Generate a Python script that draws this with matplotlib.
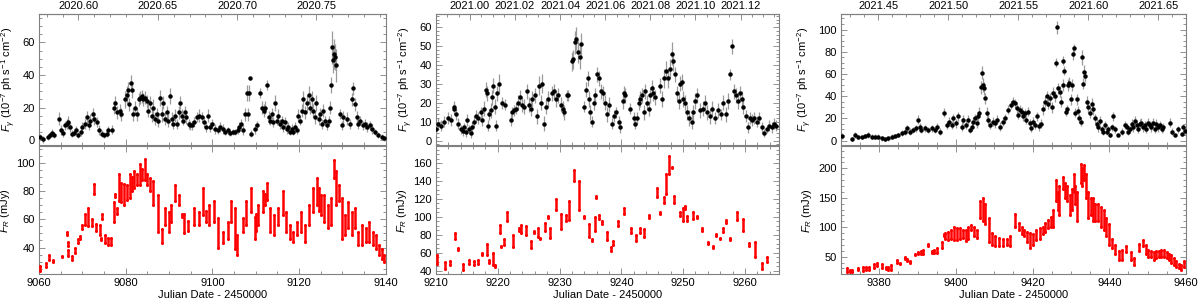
import numpy as np
import matplotlib
matplotlib.use('Agg')
import matplotlib.pyplot as plt
from matplotlib.ticker import MultipleLocator, FormatStrFormatter

plt.rcParams['font.family'] = ['Liberation Sans', 'DejaVu Sans']
plt.rcParams['mathtext.fontset'] = 'custom'
plt.rcParams['mathtext.rm'] = 'Liberation Sans'
plt.rcParams['mathtext.it'] = 'Liberation Sans:italic'

# ---- gamma-ray light curves (JD-2450000, flux 1e-7 ph/s/cm2, error) ----
g1_t = [9060.2, 9061.0, 9062.0, 9062.5, 9063.0, 9063.5, 9064.7, 9065.0, 9065.6, 9066.0,
        9066.4, 9066.8, 9067.2, 9067.5, 9068.0, 9068.5, 9069.0, 9069.6, 9070.0, 9070.6,
        9071.0, 9071.5, 9071.8, 9072.4, 9072.7, 9073.3, 9073.8, 9074.5, 9075.0, 9075.6,
        9076.0, 9076.8, 9077.2, 9077.5, 9077.9, 9078.7, 9078.9, 9079.8, 9080.2, 9080.6,
        9080.8, 9081.2, 9081.4, 9081.6, 9082.2, 9082.5, 9083.0, 9083.3, 9083.7, 9084.0,
        9084.5, 9084.8, 9085.2, 9085.6, 9086.0, 9086.4, 9086.8, 9087.2, 9087.5, 9088.0,
        9088.3, 9088.7, 9089.0, 9089.5, 9089.8, 9090.2, 9090.6, 9091.0, 9091.4, 9091.8,
        9092.2, 9092.5, 9093.0, 9093.3, 9093.7, 9094.0, 9094.5, 9094.8, 9095.2, 9095.8,
        9096.4, 9097.0, 9097.5, 9098.0, 9098.5, 9099.0, 9099.5, 9100.0, 9100.6, 9101.2,
        9101.8, 9102.4, 9103.0, 9103.5, 9104.0, 9104.7, 9105.2, 9105.8, 9106.2, 9106.6,
        9107.0, 9107.5, 9108.0, 9108.3, 9108.5, 9108.7, 9109.0, 9109.8, 9110.2, 9111.0,
        9111.4, 9112.0, 9112.2, 9112.5, 9113.0, 9113.3, 9113.7, 9114.0, 9114.5, 9114.8,
        9115.2, 9115.6, 9116.0, 9116.4, 9116.8, 9117.2, 9117.5, 9118.0, 9118.3, 9118.7,
        9119.0, 9119.5, 9119.8, 9120.2, 9120.6, 9121.0, 9121.4, 9121.8, 9122.2, 9122.5,
        9123.0, 9123.3, 9123.7, 9124.0, 9124.5, 9124.8, 9125.2, 9125.6, 9126.0, 9126.4,
        9126.8, 9127.2, 9127.4, 9127.7, 9127.9, 9128.1, 9128.3, 9128.5, 9129.5, 9129.8,
        9130.2, 9131.0, 9131.8, 9132.2, 9132.5, 9132.9, 9133.3, 9133.7, 9134.1, 9134.8,
        9135.2, 9135.6, 9136.4, 9136.8, 9137.5, 9138.3, 9139.1, 9139.7]
g1_f = [2, 0.5, 2, 3, 4.5, 3, 13, 6, 4.5, 9,
        10, 11, 8, 4, 4.5, 6, 3, 5, 8, 10,
        14, 9, 12, 16, 13, 11, 6, 4, 3, 4,
        6, 6.5, 20, 23, 17, 18, 16, 25, 28, 31,
        22, 35, 31, 16, 20, 16, 25, 26, 27, 25,
        26, 24, 18, 23, 15, 20, 13, 16, 12, 26,
        16, 23, 13, 17, 12, 27, 13, 10, 15, 10,
        17, 23, 15, 12, 17, 14, 10, 9, 9, 11,
        14, 15, 14, 11, 8, 15, 8, 10, 7, 6,
        8, 7, 5, 6, 4.5, 5, 5, 6, 8, 10,
        6, 16, 29, 16, 29, 38, 4, 7, 9, 29,
        20, 18, 20, 34, 14, 12, 16, 11, 23, 12,
        15, 10, 12, 8, 11, 7, 8, 5, 7, 5,
        8, 6, 15, 12, 18, 25, 17, 23, 28, 20,
        25, 18, 14, 23, 13, 16, 10, 18, 12, 9,
        12, 20, 34, 57, 49, 53, 51, 46, 16, 9,
        14, 13, 10, 25, 32, 22, 14, 10, 12, 9,
        10, 8, 9, 7, 5, 3, 2, 1]
g1_e = [2, 2, 2, 2, 2.5, 2, 4, 3, 2.5, 3,
        3, 4, 3, 2, 2, 2.5, 2, 2.5, 3, 3,
        4, 3, 4, 4, 4, 3, 3, 2, 2, 2,
        2.5, 2.5, 4, 4, 4, 4, 4, 5, 5, 5,
        4, 5, 5, 4, 4, 4, 4, 4, 4, 4,
        4, 4, 4, 4, 4, 5, 4, 4, 4, 5,
        5, 4, 4, 4, 4, 5, 4, 3, 4, 3,
        4, 4, 4, 3, 4, 4, 3, 3, 3, 3,
        3, 4, 3, 3, 3, 4, 3, 3, 3, 2,
        3, 3, 2, 2, 2, 2, 2, 2, 3, 3,
        3, 4, 5, 4, 5, 1, 2, 3, 3, 3,
        4, 4, 4, 3, 4, 3, 4, 3, 5, 3,
        4, 3, 3, 3, 3, 3, 3, 2, 3, 2,
        3, 2, 4, 3, 4, 5, 4, 5, 5, 4,
        5, 4, 4, 5, 4, 4, 3, 4, 3, 3,
        3, 4, 5, 10, 8, 9, 8, 10, 3, 3,
        4, 4, 3, 4, 4, 4, 4, 3, 3, 3,
        3, 3, 3, 3, 2, 2, 1.5, 1.5]

g2_t = [9210.0, 9210.3, 9210.8, 9211.3, 9211.9, 9212.4, 9212.85, 9213.0, 9213.23, 9213.6,
        9214.03, 9214.3, 9214.57, 9214.84, 9215.1, 9215.38, 9215.65, 9215.91, 9216.2, 9216.45,
        9216.83, 9217.26, 9217.53, 9217.8, 9218.06, 9218.25, 9218.44, 9218.66, 9218.87, 9219.14,
        9219.3, 9219.52, 9219.68, 9219.95, 9220.2, 9220.75, 9221.13, 9222.1, 9222.37, 9222.63,
        9222.9, 9223.28, 9223.6, 9224.0, 9224.25, 9224.68, 9225.05, 9225.32, 9225.6, 9225.97,
        9226.4, 9226.67, 9226.93, 9227.2, 9227.47, 9227.85, 9228.17, 9228.8, 9229.09, 9229.35,
        9229.73, 9230.16, 9230.54, 9230.8, 9231.13, 9231.4, 9232.04, 9232.2, 9232.47, 9232.74,
        9233.0, 9233.28, 9233.45, 9233.92, 9234.2, 9234.57, 9234.73, 9235.0, 9235.27, 9235.54,
        9235.8, 9236.08, 9236.34, 9236.72, 9237.04, 9237.42, 9237.69, 9238.06, 9238.5, 9238.76,
        9239.14, 9239.57, 9239.84, 9240.2, 9240.45, 9240.65, 9241.45, 9242.0, 9242.26, 9242.53,
        9242.8, 9243.06, 9243.33, 9243.6, 9243.87, 9244.14, 9244.4, 9244.68, 9244.95, 9245.2,
        9245.48, 9246.18, 9246.56, 9246.94, 9247.26, 9247.63, 9247.9, 9248.17, 9248.44, 9248.7,
        9248.98, 9249.25, 9249.52, 9249.8, 9250.05, 9250.32, 9250.7, 9251.0, 9251.4, 9251.67,
        9251.94, 9252.2, 9252.74, 9253.17, 9253.55, 9253.92, 9254.35, 9254.73, 9255.16, 9255.7,
        9256.08, 9256.5, 9256.94, 9257.3, 9257.58, 9257.85, 9258.23, 9258.55, 9258.92, 9259.2,
        9259.46, 9259.73, 9260.16, 9260.54, 9260.8, 9261.07, 9261.45, 9261.88, 9262.3, 9262.7,
        9263.06, 9263.5, 9263.92, 9264.3, 9264.68, 9265.1]
g2_f = [6, 9, 8, 10, 12, 11, 18, 17, 14, 9,
        6, 5, 7, 4.5, 11, 6, 4, 7, 10, 13,
        12, 15, 11, 17, 27, 25, 8, 14, 16, 23,
        29, 18, 8, 25, 30, 20, 19, 11, 15, 16,
        17, 20, 23, 19, 18, 26, 19, 17, 22, 24,
        13, 29, 20, 30, 9, 18, 22, 25, 26, 22,
        24, 19, 17, 15, 24, 24, 42, 43, 52, 54,
        47, 44, 51, 18, 27, 33, 22, 15, 10, 20,
        24, 35, 33, 26, 25, 20, 14, 19, 9, 13,
        15, 10, 7, 21, 25, 24, 17, 12, 9, 12,
        20, 22, 24, 15, 26, 20, 17, 24, 28, 25,
        23, 29, 22, 33, 37, 33, 38, 46, 42, 35,
        25, 21, 30, 31, 22, 20, 15, 12, 10, 15,
        21, 24, 16, 17, 20, 15, 13, 17, 12, 16,
        14, 20, 14, 21, 35, 50, 26, 24, 21, 25,
        22, 18, 13, 7, 12, 11, 12, 10, 12, 7,
        4, 6, 8, 7, 9, 8]
g2_e = [3, 3, 3, 3, 3, 3, 3, 3, 3, 3,
        2.5, 2.5, 2.5, 2.5, 3, 2.5, 2.5, 3, 3, 3,
        3, 3, 3, 4, 4, 4, 3, 3, 4, 4,
        4, 4, 3, 4, 5, 3, 3, 3, 3, 3,
        3, 4, 4, 4, 4, 4, 4, 4, 4, 4,
        4, 5, 4, 5, 4, 4, 4, 4, 4, 4,
        4, 4, 4, 4, 3, 3, 5, 5, 6, 6,
        6, 6, 6, 3, 4, 4, 4, 4, 3, 4,
        4, 4, 4, 4, 4, 4, 4, 4, 3, 3,
        3, 3, 3, 4, 4, 4, 3, 3, 3, 3,
        4, 4, 4, 4, 4, 4, 4, 4, 4, 4,
        4, 4, 4, 5, 5, 5, 5, 6, 5, 4,
        4, 4, 4, 4, 4, 4, 4, 4, 4, 4,
        4, 4, 4, 4, 4, 4, 4, 4, 3, 4,
        3, 4, 4, 4, 3, 4, 4, 4, 4, 4,
        4, 4, 3, 3, 3, 3, 3, 3, 3, 3,
        2, 2, 3, 3, 3, 3]

g3_t = [9370.2, 9372.8, 9373.7, 9374.5, 9375.4, 9376.3, 9377.1, 9378.0, 9378.9, 9379.7,
        9380.6, 9381.5, 9382.3, 9383.2, 9384.1, 9385.0, 9385.8, 9386.7, 9387.1, 9388.0,
        9388.9, 9389.7, 9390.2, 9390.6, 9391.0, 9391.9, 9392.8, 9393.7, 9394.5, 9395.0,
        9395.8, 9396.9, 9397.6, 9398.3, 9398.9, 9399.3, 9400.0, 9400.6, 9401.5, 9401.9,
        9402.6, 9403.2, 9403.7, 9404.1, 9404.5, 9405.0, 9405.4, 9405.8, 9406.1, 9406.5,
        9406.7, 9407.0, 9407.3, 9407.7, 9408.0, 9408.4, 9408.9, 9409.6, 9410.2, 9410.8,
        9411.5, 9412.2, 9412.8, 9413.7, 9414.3, 9414.8, 9415.4, 9415.8, 9416.3, 9416.7,
        9417.1, 9417.6, 9418.0, 9418.4, 9418.9, 9419.3, 9419.7, 9420.2, 9420.6, 9421.2,
        9421.7, 9422.1, 9422.8, 9423.2, 9423.7, 9424.1, 9424.5, 9425.0, 9425.4, 9425.8,
        9426.1, 9426.3, 9426.7, 9427.1, 9427.5, 9427.8, 9428.0, 9428.3, 9428.6, 9428.9,
        9429.2, 9429.6, 9429.9, 9430.3, 9430.5, 9430.8, 9431.1, 9431.5, 9431.8, 9432.2,
        9432.5, 9432.9, 9433.1, 9433.4, 9433.7, 9434.1, 9434.5, 9435.0, 9435.4, 9435.8,
        9436.3, 9436.7, 9437.1, 9437.6, 9438.0, 9438.4, 9438.9, 9439.3, 9439.7, 9440.2,
        9440.6, 9441.0, 9441.5, 9442.3, 9443.2, 9444.1, 9444.5, 9445.0, 9445.4, 9445.8,
        9446.3, 9446.7, 9447.1, 9447.6, 9448.0, 9448.4, 9448.9, 9449.3, 9449.7, 9450.2,
        9450.6, 9451.0, 9451.5, 9451.9, 9452.3, 9452.8, 9453.2, 9453.7, 9454.1, 9455.8,
        9456.3, 9457.1, 9458.0, 9458.9, 9459.3, 9459.7]
g3_f = [4, 1.5, 5, 3, 3, 4, 5, 3.6, 3.6, 3.6,
        2, 1, 2, 3.6, 4, 5, 6.6, 8, 11, 8,
        9.6, 11, 18.7, 12.6, 9.6, 11, 9.6, 11, 9.6, 12.6,
        8, 25, 14, 17, 14, 20, 15.7, 21.7, 12.6, 18.7,
        14, 18.7, 9.6, 12.6, 17, 20, 15.7, 21.7, 25, 48,
        61, 50, 47, 38, 25, 18.7, 14, 17, 15.7, 18.7,
        12.6, 17, 20, 27.7, 32, 35, 33.7, 29, 23, 27.7,
        26, 21.7, 24.7, 18.7, 26, 15.7, 11, 17, 14, 22,
        13, 15, 28, 35, 40, 33, 38, 30, 43, 40,
        70, 102, 47, 44, 35, 50, 72, 63, 26, 28,
        50, 52, 37, 50, 78, 83, 25, 37, 27, 20,
        17, 75, 51, 62, 58, 35, 30, 25, 33, 28,
        20, 15, 12, 18, 10, 8, 14, 8, 10, 5,
        12, 22, 10, 5, 8, 14, 12, 8, 10, 15,
        12, 18, 14, 10, 15, 16, 12, 14, 10, 16,
        14, 12, 16, 10, 15, 12, 14, 10, 12, 16,
        8, 5, 10, 6, 12, 9]
g3_e = [3, 2, 3, 2, 2, 2, 3, 2, 2, 2,
        2, 1.5, 2, 2, 2, 2, 2.5, 3, 3, 3,
        3, 3, 4, 3, 3, 3, 3, 3, 3, 3,
        3, 4, 4, 4, 4, 4, 4, 4, 4, 4,
        4, 4, 3, 4, 4, 4, 4, 4, 5, 6,
        6, 6, 6, 5, 5, 4, 4, 4, 4, 4,
        4, 4, 4, 4, 4, 4, 4, 4, 4, 4,
        4, 4, 4, 4, 4, 4, 3, 4, 4, 4,
        4, 4, 5, 5, 5, 5, 5, 5, 5, 5,
        4, 6, 5, 5, 5, 5, 4, 4, 4, 4,
        5, 5, 5, 5, 5, 4, 4, 5, 4, 4,
        4, 7, 5, 6, 5, 5, 5, 5, 5, 5,
        4, 4, 4, 4, 3, 3, 4, 3, 3, 2,
        3, 4, 3, 2, 3, 4, 4, 3, 3, 4,
        4, 4, 4, 3, 4, 4, 4, 4, 3, 4,
        4, 4, 4, 3, 4, 4, 4, 3, 4, 4,
        3, 2, 3, 2, 3, 3]

# ---- optical R-band: nightly time, lowest and highest flux (mJy) ----
o1_t = [9060.3, 9061.5, 9062.3, 9063.3, 9065.2, 9066.4, 9066.6, 9066.8, 9067.5, 9068.3,
        9069.0, 9069.5, 9070.0, 9070.6, 9071.3, 9072.2, 9072.6, 9073.2, 9074.1, 9074.3,
        9074.5, 9075.2, 9076.0, 9076.5, 9077.2, 9077.5, 9078.0, 9078.5, 9079.5, 9080.9,
        9082.0, 9083.2, 9084.4, 9085.6, 9086.4, 9087.5, 9088.4, 9089.0, 9089.9, 9090.5,
        9091.4, 9092.2, 9093.0, 9093.5, 9094.4, 9095.8, 9097.0, 9097.8, 9099.2, 9100.3,
        9101.2, 9102.5, 9103.6, 9104.2, 9105.1, 9105.6, 9107.0, 9107.8, 9108.9, 9109.8,
        9110.6, 9111.6, 9112.6, 9113.4, 9114.3, 9115.1, 9116.2, 9117.0, 9117.8, 9118.7,
        9119.6, 9120.5, 9121.4, 9122.3, 9123.2, 9124.2, 9125.0, 9125.8, 9126.7, 9127.4,
        9128.0, 9128.5, 9129.1, 9129.8, 9130.6, 9131.3, 9132.2, 9132.9, 9133.7, 9134.5,
        9135.4, 9136.1, 9137.0, 9137.7, 9138.5, 9139.2, 9139.7,
        9079.0, 9080.2, 9081.5, 9082.6, 9083.8, 9085.0, 9098.5, 9110.1, 9112.1, 9124.7]
o1_lo = [23, 26, 31, 30, 33, 49, 41, 34, 31, 36,
         43, 46, 53, 56, 55, 55, 78, 52, 49, 45,
         60, 43, 42, 42, 58, 76, 64, 73, 70, 75,
         82, 84, 88, 80, 70, 51, 43, 56, 51, 58,
         73, 70, 62, 50, 52, 56, 56, 63, 56, 58,
         40, 43, 46, 58, 39, 35, 51, 56, 65, 46,
         56, 65, 74, 51, 49, 56, 63, 51, 46, 44,
         49, 51, 44, 56, 65, 70, 63, 58, 54, 56,
         89, 70, 73, 46, 49, 54, 49, 54, 42, 42,
         44, 44, 42, 39, 35, 32, 30,
         72, 74, 80, 84, 88, 84, 58, 52, 70, 66]
o1_hi = [27, 29, 35, 31, 34, 51, 44, 38, 34, 40,
         46, 48, 56, 64, 68, 60, 85, 57, 56, 47,
         64, 49, 47, 47, 72, 78, 68, 92, 85, 92,
         94, 99, 103, 89, 87, 77, 53, 68, 65, 70,
         84, 77, 64, 64, 59, 68, 65, 82, 70, 73,
         61, 51, 58, 73, 68, 49, 61, 73, 82, 62,
         70, 80, 86, 68, 63, 68, 80, 65, 56, 51,
         58, 65, 56, 70, 82, 89, 77, 77, 70, 75,
         102, 94, 84, 75, 63, 72, 65, 68, 51, 56,
         54, 58, 51, 49, 42, 39, 35,
         86, 84, 90, 92, 96, 92, 66, 64, 78, 82]

o2_t = [9210.1, 9211.4, 9212.3, 9213.1, 9213.5, 9214.3, 9215.3, 9216.2, 9216.8, 9217.4,
        9218.2, 9218.6, 9219.3, 9219.5, 9220.3, 9220.6, 9221.0, 9221.5, 9222.4, 9223.5,
        9223.8, 9224.5, 9225.3, 9225.8, 9226.5, 9226.8, 9227.6, 9228.1, 9228.5, 9229.4,
        9230.3, 9231.0, 9231.6, 9232.4, 9233.2, 9234.0, 9234.8, 9235.2, 9235.7, 9235.9,
        9236.4, 9236.8, 9237.7, 9238.3, 9238.6, 9239.5, 9240.4, 9241.6, 9242.3, 9243.0,
        9243.7, 9244.4, 9245.7, 9246.3, 9246.9, 9247.3, 9247.7, 9248.2, 9248.6, 9249.5,
        9249.9, 9250.3, 9250.6, 9251.6, 9252.3, 9253.0, 9254.1, 9254.9, 9255.3, 9256.0,
        9256.4, 9256.9, 9257.6, 9258.7, 9259.7, 9260.7, 9261.6, 9262.7, 9263.5]
o2_lo = [48, 42, 46, 75, 63, 41, 48, 46, 48, 57,
         58, 49, 46, 44, 82, 66, 69, 95, 66, 84,
         82, 80, 65, 82, 78, 75, 84, 99, 76, 108,
         86, 95, 96, 140, 108, 99, 78, 73, 84, 121,
         98, 92, 74, 62, 69, 90, 103, 82, 73, 82,
         78, 99, 122, 103, 116, 126, 148, 154, 115, 101,
         95, 109, 95, 98, 99, 84, 70, 65, 79, 75,
         83, 93, 74, 96, 84, 67, 55, 42, 50]
o2_hi = [57, 50, 51, 82, 65, 48, 52, 51, 52, 60,
         70, 52, 60, 46, 91, 68, 75, 106, 80, 88,
         91, 90, 73, 84, 88, 77, 93, 101, 88, 120,
         103, 102, 118, 152, 140, 101, 92, 75, 100, 123,
         102, 95, 83, 66, 73, 95, 110, 88, 80, 88,
         86, 102, 132, 105, 122, 148, 168, 156, 123, 106,
         110, 112, 101, 106, 101, 88, 72, 68, 81, 77,
         88, 96, 76, 106, 98, 71, 72, 49, 55]

o3_t = [9371.5, 9373.0, 9374.5, 9375.8, 9377.2, 9378.5, 9379.5, 9380.6, 9381.8, 9383.0,
        9384.5, 9385.4, 9386.7, 9388.0, 9389.3, 9390.2, 9391.5, 9392.8, 9393.7, 9395.0,
        9396.3, 9396.9, 9398.0, 9399.5, 9401.0, 9402.5, 9404.0, 9405.5, 9407.0, 9408.5,
        9410.3, 9412.2, 9414.2, 9415.4, 9416.5, 9417.8, 9419.3, 9421.0, 9422.6, 9424.0,
        9425.3, 9426.0, 9427.0, 9428.0, 9429.0, 9429.8, 9430.7, 9431.6, 9432.5, 9433.5,
        9434.5, 9435.8, 9437.0, 9438.5, 9439.8, 9440.7, 9441.6, 9442.5, 9444.3, 9445.6,
        9446.4, 9447.7, 9448.8, 9450.2, 9451.6, 9453.0, 9454.3, 9455.6, 9456.9, 9458.2,
        9459.4,
        9372.3, 9376.5, 9382.4, 9387.3, 9390.8, 9394.3, 9397.2, 9398.8, 9400.2, 9401.8,
        9403.2, 9404.8, 9406.4, 9407.6, 9409.4, 9411.2, 9413.2, 9417.2, 9418.5, 9420.2,
        9421.8, 9423.3, 9424.7, 9426.5, 9428.5, 9430.2, 9431.1, 9433.0, 9434.0, 9435.2,
        9436.4, 9437.8, 9439.2, 9443.4, 9449.5, 9450.9, 9452.3, 9453.6, 9455.0, 9456.2,
        9457.5, 9458.8]
o3_lo = [24, 24, 27, 26, 28, 31, 34, 31, 29, 27,
         40, 38, 46, 40, 52, 54, 55, 68, 57, 56,
         65, 85, 78, 78, 80, 76, 95, 82, 110, 75,
         68, 68, 68, 100, 96, 85, 65, 78, 88, 98,
         100, 145, 120, 165, 145, 120, 160, 110, 175, 180,
         115, 110, 110, 95, 70, 64, 55, 45, 58, 45,
         35, 60, 68, 50, 45, 50, 50, 45, 35, 30,
         32,
         24, 28, 28, 42, 54, 56, 80, 80, 78, 82,
         80, 85, 115, 105, 70, 68, 70, 88, 75, 70,
         80, 92, 100, 130, 150, 130, 140, 170, 150, 120,
         110, 100, 85, 45, 55, 50, 48, 50, 48, 40,
         32, 28]
o3_hi = [30, 28, 30, 32, 32, 37, 40, 37, 32, 35,
         44, 40, 49, 43, 55, 58, 61, 71, 60, 64,
         75, 89, 92, 100, 98, 95, 104, 95, 150, 115,
         85, 80, 85, 122, 108, 96, 90, 96, 100, 112,
         130, 180, 170, 185, 170, 155, 190, 160, 208, 205,
         160, 150, 140, 130, 105, 80, 70, 60, 68, 58,
         48, 72, 78, 62, 58, 60, 62, 55, 48, 38,
         42,
         28, 32, 33, 46, 60, 62, 90, 95, 98, 95,
         100, 100, 145, 140, 90, 82, 80, 100, 92, 88,
         98, 108, 118, 160, 175, 165, 170, 200, 190, 150,
         140, 135, 115, 62, 70, 60, 60, 62, 58, 52,
         42, 35]

# decimal-year labels on the top axes
yr_ticks1 = [2020.60, 2020.65, 2020.70, 2020.75]
yr_ticks2 = [2021.00, 2021.02, 2021.04, 2021.06, 2021.08, 2021.10, 2021.12]
yr_ticks3 = [2021.45, 2021.50, 2021.55, 2021.60, 2021.65]

GREY = '#808080'
FS = 8


def jd2yr_2020(x):
    return 2020.0 + (np.asarray(x) - 8849.5) / 366.0


def yr2jd_2020(y):
    return 8849.5 + (np.asarray(y) - 2020.0) * 366.0


def jd2yr_2021(x):
    return 2021.0 + (np.asarray(x) - 9215.5) / 365.0


def yr2jd_2021(y):
    return 9215.5 + (np.asarray(y) - 2021.0) * 365.0


def style(ax, xmaj, xmin, ymaj, ymin, top=True):
    ax.xaxis.set_major_locator(MultipleLocator(xmaj))
    ax.xaxis.set_minor_locator(MultipleLocator(xmin))
    ax.yaxis.set_major_locator(MultipleLocator(ymaj))
    ax.yaxis.set_minor_locator(MultipleLocator(ymin))
    ax.tick_params(which='both', direction='in', top=top, right=True,
                   color=GREY, labelsize=FS, pad=3)
    ax.tick_params(which='major', length=4, width=0.6)
    ax.tick_params(which='minor', length=2, width=0.6)
    for s in ax.spines.values():
        s.set_color(GREY)
        s.set_linewidth(0.8)


fig = plt.figure(figsize=(12, 3.01), dpi=100)

cols = [
    dict(left=0.0325, width=0.289, xlim=(9060, 9140), xmaj=20, xmin=5,
         g=(g1_t, g1_f, g1_e), gylim=(-3, 77.5), gmaj=20, gmin=5,
         o=(o1_t, o1_lo, o1_hi), oylim=(21, 112), omaj=20, omin=5,
         fwd=jd2yr_2020, inv=yr2jd_2020, yt=yr_ticks1, ymin_step=0.01),
    dict(left=0.3633, width=0.2858, xlim=(9210, 9265.5), xmaj=10, xmin=2,
         g=(g2_t, g2_f, g2_e), gylim=(-2.3, 67), gmaj=10, gmin=2,
         o=(o2_t, o2_lo, o2_hi), oylim=(36, 179), omaj=20, omin=5,
         fwd=jd2yr_2021, inv=yr2jd_2021, yt=yr_ticks2, ymin_step=0.005),
    dict(left=0.7008, width=0.2875, xlim=(9370, 9460), xmaj=20, xmin=5,
         g=(g3_t, g3_f, g3_e), gylim=(-4, 114), gmaj=20, gmin=5,
         o=(o3_t, o3_lo, o3_hi), oylim=(20, 238), omaj=50, omin=10,
         fwd=jd2yr_2021, inv=yr2jd_2021, yt=yr_ticks3, ymin_step=0.01),
]

for c in cols:
    axg = fig.add_axes([c['left'], 0.5183, c['width'], 0.4352])
    axo = fig.add_axes([c['left'], 0.0887, c['width'], 0.4262])

    # gamma-ray panel
    t, f, e = c['g']
    axg.errorbar(t, f, yerr=e, fmt='o', ms=2.2, mfc='black', mec='black',
                 ecolor='#9a9a9a', elinewidth=0.9, capsize=0, zorder=3)
    axg.set_xlim(*c['xlim'])
    axg.set_ylim(*c['gylim'])
    style(axg, c['xmaj'], c['xmin'], c['gmaj'], c['gmin'], top=False)
    axg.tick_params(labelbottom=False)
    axg.set_ylabel(r'$F_\gamma$ (10$^{-7}$ ph s$^{-1}$ cm$^{-2}$)', fontsize=FS, labelpad=3)

    sec = axg.secondary_xaxis('top', functions=(c['fwd'], c['inv']))
    sec.set_xticks(c['yt'])
    sec.xaxis.set_minor_locator(MultipleLocator(c['ymin_step']))
    sec.xaxis.set_major_formatter(FormatStrFormatter('%.2f'))
    sec.tick_params(which='both', direction='in', color=GREY, labelsize=FS, pad=2)
    sec.tick_params(which='major', length=4, width=0.6)
    sec.tick_params(which='minor', length=2, width=0.6)
    sec.spines['top'].set_color(GREY)
    sec.spines['top'].set_linewidth(0.8)

    # optical panel
    t, lo, hi = c['o']
    axo.vlines(t, lo, hi, color='red', lw=1.8, zorder=3)
    axo.plot(t, lo, 'o', color='red', ms=2.2, mew=0, zorder=3)
    axo.plot(t, hi, 'o', color='red', ms=2.2, mew=0, zorder=3)
    axo.set_xlim(*c['xlim'])
    axo.set_ylim(*c['oylim'])
    style(axo, c['xmaj'], c['xmin'], c['omaj'], c['omin'], top=True)
    axo.set_ylabel(r'$F_R$ (mJy)', fontsize=FS, labelpad=3)
    axo.set_xlabel('Julian Date - 2450000', fontsize=FS, labelpad=1)

fig.savefig('out.png', dpi=100)
